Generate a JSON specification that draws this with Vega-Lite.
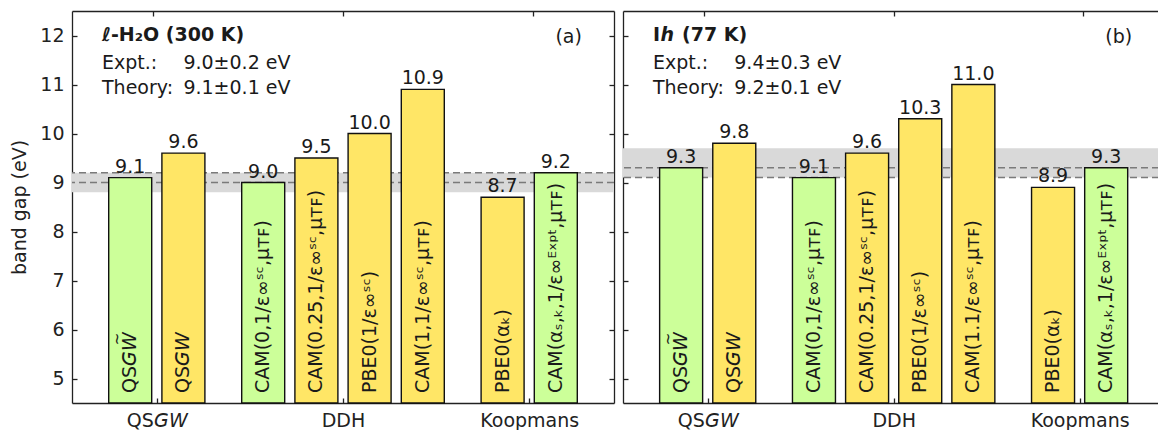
{
  "$schema": "https://vega.github.io/schema/vega-lite/v6.json",
  "autosize": {"type": "pad"},
  "padding": {"left": 10, "top": 10, "right": 0, "bottom": 0},
  "background": "white",
  "bounds": "flush",
  "spacing": 9,
  "config": {
    "font": "DejaVu Sans",
    "view": {"stroke": null},
    "axis": {
      "grid": false,
      "domainColor": "#222222",
      "domainWidth": 1.3,
      "tickColor": "#222222",
      "tickWidth": 1.3,
      "tickSize": -5,
      "labelFont": "DejaVu Sans",
      "labelFontSize": 19,
      "labelColor": "#222222",
      "labelPadding": 13,
      "titleFont": "DejaVu Sans",
      "titleFontSize": 19,
      "titleFontWeight": "normal",
      "titleColor": "#222222"
    },
    "text": {"font": "DejaVu Sans", "fontSize": 19, "color": "#1a1a1a"}
  },
  "datasets": {
    "bars": [
      {"panel": "a", "pos": 0, "gap": 9.1, "method": "QS𝘎𝘞", "recommended": "yes"},
      {"panel": "a", "pos": 1, "gap": 9.6, "method": "QS𝘎𝘞", "recommended": "no"},
      {"panel": "a", "pos": 2.5, "gap": 9.0, "method": "CAM(0,1/ε∞ˢᶜ,μᴛꜰ)", "recommended": "yes"},
      {"panel": "a", "pos": 3.5, "gap": 9.5, "method": "CAM(0.25,1/ε∞ˢᶜ,μᴛꜰ)", "recommended": "no"},
      {"panel": "a", "pos": 4.5, "gap": 10.0, "method": "PBE0(1/ε∞ˢᶜ)", "recommended": "no"},
      {"panel": "a", "pos": 5.5, "gap": 10.9, "method": "CAM(1,1/ε∞ˢᶜ,μᴛꜰ)", "recommended": "no"},
      {"panel": "a", "pos": 7, "gap": 8.7, "method": "PBE0(αₖ)", "recommended": "no"},
      {"panel": "a", "pos": 8, "gap": 9.2, "method": "CAM(αₛ,ₖ,1/ε∞ᴱˣᵖᵗ,μᴛꜰ)", "recommended": "yes"},
      {"panel": "b", "pos": 0, "gap": 9.3, "method": "QS𝘎𝘞", "recommended": "yes"},
      {"panel": "b", "pos": 1, "gap": 9.8, "method": "QS𝘎𝘞", "recommended": "no"},
      {"panel": "b", "pos": 2.5, "gap": 9.1, "method": "CAM(0,1/ε∞ˢᶜ,μᴛꜰ)", "recommended": "yes"},
      {"panel": "b", "pos": 3.5, "gap": 9.6, "method": "CAM(0.25,1/ε∞ˢᶜ,μᴛꜰ)", "recommended": "no"},
      {"panel": "b", "pos": 4.5, "gap": 10.3, "method": "PBE0(1/ε∞ˢᶜ)", "recommended": "no"},
      {"panel": "b", "pos": 5.5, "gap": 11.0, "method": "CAM(1.1/ε∞ˢᶜ,μᴛꜰ)", "recommended": "no"},
      {"panel": "b", "pos": 7, "gap": 8.9, "method": "PBE0(αₖ)", "recommended": "no"},
      {"panel": "b", "pos": 8, "gap": 9.3, "method": "CAM(αₛ,ₖ,1/ε∞ᴱˣᵖᵗ,μᴛꜰ)", "recommended": "yes"}
    ],
    "refs": [
      {"panel": "a", "expt_lo": 8.8, "expt_hi": 9.2, "theory_lo": 9.0, "theory_hi": 9.2, "expt": "9.0±0.2 eV", "theory": "9.1±0.1 eV", "tag": "(a)"},
      {"panel": "b", "expt_lo": 9.1, "expt_hi": 9.7, "theory_lo": 9.1, "theory_hi": 9.3, "expt": "9.4±0.3 eV", "theory": "9.2±0.1 eV", "tag": "(b)"}
    ]
  },
  "hconcat": [
    {
      "width": 542,
      "height": 392,
      "resolve": {"scale": {"x": "independent", "y": "independent"}},
      "layer": [
        {
          "layer": [
            {
              "data": {"name": "refs"},
              "transform": [{"filter": "datum.panel == 'a'"}],
              "mark": {"type": "rect", "fill": "#d9d9d9"},
              "encoding": {
                "y": {"field": "expt_lo", "type": "quantitative", "scale": {"domain": [4.5, 12.5], "nice": false, "zero": false}},
                "y2": {"field": "expt_hi"}
              }
            },
            {
              "data": {"name": "refs"},
              "transform": [{"filter": "datum.panel == 'a'"}],
              "mark": {"type": "rule", "stroke": "#7a7a7a", "strokeWidth": 1.5, "strokeDash": [7, 4]},
              "encoding": {
                "y": {"field": "theory_lo", "type": "quantitative"}
              }
            },
            {
              "data": {"name": "refs"},
              "transform": [{"filter": "datum.panel == 'a'"}],
              "mark": {"type": "rule", "stroke": "#7a7a7a", "strokeWidth": 1.5, "strokeDash": [7, 4]},
              "encoding": {
                "y": {"field": "theory_hi", "type": "quantitative"}
              }
            },
            {
              "data": {"name": "bars"},
              "transform": [{"filter": "datum.panel == 'a'"}],
              "mark": {"type": "bar", "size": 43, "stroke": "#111111", "strokeWidth": 1.4},
              "encoding": {
                "x": {"field": "pos", "type": "quantitative", "scale": {"domain": [-1, 9], "nice": false, "zero": false},
                  "axis": {"orient": "bottom", "title": null, "values": [0.5, 4, 7.5], "labelExpr": "datum.value == 0.5 ? 'QS𝘎𝘞' : datum.value == 4 ? 'DDH' : 'Koopmans'"}},
                "y": {"field": "gap", "type": "quantitative", "scale": {"domain": [4.5, 12.5], "nice": false, "zero": false},
                  "axis": {"orient": "left", "title": "band gap (eV)", "titlePadding": 10, "values": [5, 6, 7, 8, 9, 10, 11, 12]}},
                "y2": {"datum": 4.5},
                "fill": {"field": "recommended", "type": "nominal", "scale": {"domain": ["yes", "no"], "range": ["#ccff99", "#ffe666"]}, "legend": null}
              }
            },
            {
              "data": {"name": "bars"},
              "transform": [{"filter": "datum.panel == 'a'"}],
              "mark": {"type": "text", "angle": 270, "align": "left", "baseline": "middle", "dx": 10, "fontSize": 19},
              "encoding": {
                "x": {"field": "pos", "type": "quantitative"},
                "y": {"datum": 4.5, "type": "quantitative"},
                "text": {"field": "method"}
              }
            },
            {
              "data": {"name": "bars"},
              "transform": [{"filter": "datum.panel == 'a' && datum.pos == 0"}],
              "mark": {"type": "text", "text": "~", "angle": 270, "align": "center", "baseline": "middle", "dx": 64, "dy": -13, "fontSize": 15},
              "encoding": {
                "x": {"field": "pos", "type": "quantitative"},
                "y": {"datum": 4.5, "type": "quantitative"}
              }
            },
            {
              "data": {"name": "bars"},
              "transform": [{"filter": "datum.panel == 'a'"}],
              "mark": {"type": "text", "baseline": "alphabetic", "dy": -5, "fontSize": 19},
              "encoding": {
                "x": {"field": "pos", "type": "quantitative"},
                "y": {"field": "gap", "type": "quantitative"},
                "text": {"field": "gap", "type": "quantitative", "format": ".1f"}
              }
            },
            {
              "data": {"name": "refs"},
              "transform": [{"filter": "datum.panel == 'a'"}],
              "layer": [
                {
                  "mark": {"type": "text", "text": "ℓ-H₂O (300 K)", "fontWeight": "bold", "align": "left", "baseline": "alphabetic"},
                  "encoding": {
                    "x": {"datum": -0.53, "type": "quantitative"},
                    "y": {"datum": 11.89, "type": "quantitative"}
                  }
                },
                {
                  "mark": {"type": "text", "text": "Expt.:", "align": "left", "baseline": "alphabetic"},
                  "encoding": {
                    "x": {"datum": -0.53, "type": "quantitative"},
                    "y": {"datum": 11.31, "type": "quantitative"}
                  }
                },
                {
                  "mark": {"type": "text", "align": "left", "baseline": "alphabetic"},
                  "encoding": {
                    "x": {"datum": 1.0, "type": "quantitative"},
                    "y": {"datum": 11.31, "type": "quantitative"},
                    "text": {"field": "expt"}
                  }
                },
                {
                  "mark": {"type": "text", "text": "Theory:", "align": "left", "baseline": "alphabetic"},
                  "encoding": {
                    "x": {"datum": -0.53, "type": "quantitative"},
                    "y": {"datum": 10.81, "type": "quantitative"}
                  }
                },
                {
                  "mark": {"type": "text", "align": "left", "baseline": "alphabetic"},
                  "encoding": {
                    "x": {"datum": 1.0, "type": "quantitative"},
                    "y": {"datum": 10.81, "type": "quantitative"},
                    "text": {"field": "theory"}
                  }
                },
                {
                  "mark": {"type": "text", "align": "right", "baseline": "alphabetic"},
                  "encoding": {
                    "x": {"datum": 8.49, "type": "quantitative"},
                    "y": {"datum": 11.84, "type": "quantitative"},
                    "text": {"field": "tag"}
                  }
                }
              ]
            }
          ]
        },
        {
          "data": {"values": [{}]},
          "mark": {"type": "point", "opacity": 0},
          "encoding": {
            "x": {"datum": 0, "type": "quantitative", "scale": {"domain": [-1, 9], "nice": false, "zero": false},
              "axis": {"orient": "top", "title": null, "labels": false, "values": [0.5, 4, 7.5]}},
            "y": {"datum": 5, "type": "quantitative", "scale": {"domain": [4.5, 12.5], "nice": false, "zero": false},
              "axis": {"orient": "right", "title": null, "labels": false, "values": [5, 6, 7, 8, 9, 10, 11, 12]}}
          }
        }
      ]
    },
    {
      "width": 536,
      "height": 392,
      "resolve": {"scale": {"x": "independent", "y": "independent"}},
      "layer": [
        {
          "layer": [
            {
              "data": {"name": "refs"},
              "transform": [{"filter": "datum.panel == 'b'"}],
              "mark": {"type": "rect", "fill": "#d9d9d9"},
              "encoding": {
                "y": {"field": "expt_lo", "type": "quantitative", "scale": {"domain": [4.5, 12.5], "nice": false, "zero": false}},
                "y2": {"field": "expt_hi"}
              }
            },
            {
              "data": {"name": "refs"},
              "transform": [{"filter": "datum.panel == 'b'"}],
              "mark": {"type": "rule", "stroke": "#7a7a7a", "strokeWidth": 1.5, "strokeDash": [7, 4]},
              "encoding": {
                "y": {"field": "theory_lo", "type": "quantitative"}
              }
            },
            {
              "data": {"name": "refs"},
              "transform": [{"filter": "datum.panel == 'b'"}],
              "mark": {"type": "rule", "stroke": "#7a7a7a", "strokeWidth": 1.5, "strokeDash": [7, 4]},
              "encoding": {
                "y": {"field": "theory_hi", "type": "quantitative"}
              }
            },
            {
              "data": {"name": "bars"},
              "transform": [{"filter": "datum.panel == 'b'"}],
              "mark": {"type": "bar", "size": 43, "stroke": "#111111", "strokeWidth": 1.4},
              "encoding": {
                "x": {"field": "pos", "type": "quantitative", "scale": {"domain": [-1, 8.9], "nice": false, "zero": false},
                  "axis": {"orient": "bottom", "title": null, "values": [0.5, 4, 7.5], "labelExpr": "datum.value == 0.5 ? 'QS𝘎𝘞' : datum.value == 4 ? 'DDH' : 'Koopmans'"}},
                "y": {"field": "gap", "type": "quantitative", "scale": {"domain": [4.5, 12.5], "nice": false, "zero": false},
                  "axis": {"orient": "left", "title": null, "labels": false, "values": [5, 6, 7, 8, 9, 10, 11, 12]}},
                "y2": {"datum": 4.5},
                "fill": {"field": "recommended", "type": "nominal", "scale": {"domain": ["yes", "no"], "range": ["#ccff99", "#ffe666"]}, "legend": null}
              }
            },
            {
              "data": {"name": "bars"},
              "transform": [{"filter": "datum.panel == 'b'"}],
              "mark": {"type": "text", "angle": 270, "align": "left", "baseline": "middle", "dx": 10, "fontSize": 19},
              "encoding": {
                "x": {"field": "pos", "type": "quantitative"},
                "y": {"datum": 4.5, "type": "quantitative"},
                "text": {"field": "method"}
              }
            },
            {
              "data": {"name": "bars"},
              "transform": [{"filter": "datum.panel == 'b' && datum.pos == 0"}],
              "mark": {"type": "text", "text": "~", "angle": 270, "align": "center", "baseline": "middle", "dx": 64, "dy": -13, "fontSize": 15},
              "encoding": {
                "x": {"field": "pos", "type": "quantitative"},
                "y": {"datum": 4.5, "type": "quantitative"}
              }
            },
            {
              "data": {"name": "bars"},
              "transform": [{"filter": "datum.panel == 'b'"}],
              "mark": {"type": "text", "baseline": "alphabetic", "dy": -5, "fontSize": 19},
              "encoding": {
                "x": {"field": "pos", "type": "quantitative"},
                "y": {"field": "gap", "type": "quantitative"},
                "text": {"field": "gap", "type": "quantitative", "format": ".1f"}
              }
            },
            {
              "data": {"name": "refs"},
              "transform": [{"filter": "datum.panel == 'b'"}],
              "layer": [
                {
                  "mark": {"type": "text", "text": "I", "fontWeight": "bold", "align": "left", "baseline": "alphabetic"},
                  "encoding": {
                    "x": {"datum": -0.53, "type": "quantitative"},
                    "y": {"datum": 11.89, "type": "quantitative"}
                  }
                },
                {
                  "mark": {"type": "text", "text": "h", "fontWeight": "bold", "fontStyle": "italic", "align": "left", "baseline": "alphabetic", "dx": 7.5},
                  "encoding": {
                    "x": {"datum": -0.53, "type": "quantitative"},
                    "y": {"datum": 11.89, "type": "quantitative"}
                  }
                },
                {
                  "mark": {"type": "text", "text": "(77 K)", "fontWeight": "bold", "align": "left", "baseline": "alphabetic", "dx": 29},
                  "encoding": {
                    "x": {"datum": -0.53, "type": "quantitative"},
                    "y": {"datum": 11.89, "type": "quantitative"}
                  }
                },
                {
                  "mark": {"type": "text", "text": "Expt.:", "align": "left", "baseline": "alphabetic"},
                  "encoding": {
                    "x": {"datum": -0.53, "type": "quantitative"},
                    "y": {"datum": 11.31, "type": "quantitative"}
                  }
                },
                {
                  "mark": {"type": "text", "align": "left", "baseline": "alphabetic"},
                  "encoding": {
                    "x": {"datum": 1.0, "type": "quantitative"},
                    "y": {"datum": 11.31, "type": "quantitative"},
                    "text": {"field": "expt"}
                  }
                },
                {
                  "mark": {"type": "text", "text": "Theory:", "align": "left", "baseline": "alphabetic"},
                  "encoding": {
                    "x": {"datum": -0.53, "type": "quantitative"},
                    "y": {"datum": 10.81, "type": "quantitative"}
                  }
                },
                {
                  "mark": {"type": "text", "align": "left", "baseline": "alphabetic"},
                  "encoding": {
                    "x": {"datum": 1.0, "type": "quantitative"},
                    "y": {"datum": 10.81, "type": "quantitative"},
                    "text": {"field": "theory"}
                  }
                },
                {
                  "mark": {"type": "text", "align": "right", "baseline": "alphabetic"},
                  "encoding": {
                    "x": {"datum": 8.49, "type": "quantitative"},
                    "y": {"datum": 11.84, "type": "quantitative"},
                    "text": {"field": "tag"}
                  }
                }
              ]
            }
          ]
        },
        {
          "data": {"values": [{}]},
          "mark": {"type": "point", "opacity": 0},
          "encoding": {
            "x": {"datum": 0, "type": "quantitative", "scale": {"domain": [-1, 8.9], "nice": false, "zero": false},
              "axis": {"orient": "top", "title": null, "labels": false, "values": [0.5, 4, 7.5]}},
            "y": {"datum": 5, "type": "quantitative", "scale": {"domain": [4.5, 12.5], "nice": false, "zero": false}, "axis": null}
          }
        }
      ]
    }
  ]
}
